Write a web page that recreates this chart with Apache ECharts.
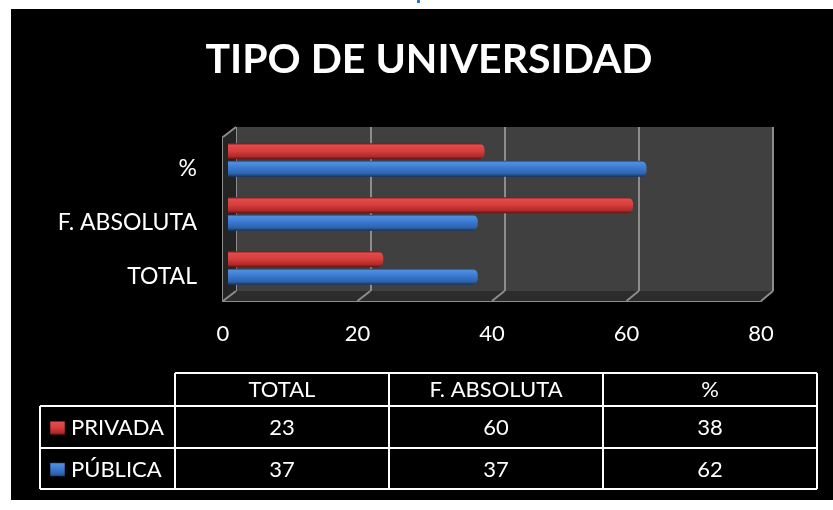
<!DOCTYPE html>
<html>
<head>
<meta charset="utf-8">
<script src="https://cdn.jsdelivr.net/npm/echarts@6/dist/echarts.min.js"></script>
<style>
html, body { margin: 0; padding: 0; background: #ffffff; }
#chart { width: 833px; height: 510px; }
</style>
</head>
<body>
<div id="chart"></div>
<script>
const categories = ['TOTAL', 'F. ABSOLUTA', '%'];
const privada = [23, 60, 38];
const publica = [37, 37, 62];
const seriesNames = ['PRIVADA', 'PÚBLICA'];
const xMin = 0;
const xMax = 80;
const xStep = 20;

const FONT = 'Lato';
const W = 833, H = 510;

// caja 3D: pared del fondo, plano de barras y borde frontal
const back = { left: 236, right: 60, top: 127, bottom: 219 };
const mid = { left: 228, right: 65, top: 133, bottom: 215 };
const front = { left: 223, right: 72, top: 137, bottom: 209 };

const redGrad = new echarts.graphic.LinearGradient(0, 0, 0, 1, [
  { offset: 0, color: '#7a1a1a' },
  { offset: 0.12, color: '#e24b4b' },
  { offset: 0.45, color: '#d83f3f' },
  { offset: 0.82, color: '#b02a2a' },
  { offset: 1, color: '#5a1010' }
]);
const blueGrad = new echarts.graphic.LinearGradient(0, 0, 0, 1, [
  { offset: 0, color: '#1d4378' },
  { offset: 0.12, color: '#4f8ee0' },
  { offset: 0.45, color: '#3c7ad0' },
  { offset: 0.82, color: '#2c62ae' },
  { offset: 1, color: '#163560' }
]);

const hiddenValueAxis = (gi) => ({
  type: 'value', gridIndex: gi, min: xMin, max: xMax, interval: xStep,
  axisLabel: { show: false }, axisLine: { show: false },
  axisTick: { show: false }, splitLine: { show: false }
});

const option = {
  animation: false,
  backgroundColor: '#ffffff',
  grid: [
    Object.assign({ show: true, backgroundColor: '#404040', borderWidth: 0 }, back),
    Object.assign({}, mid),
    Object.assign({}, front)
  ],
  xAxis: [
    Object.assign(hiddenValueAxis(0), {
      splitLine: { show: true, lineStyle: { color: '#8c8c8c', width: 2 } }
    }),
    hiddenValueAxis(1),
    Object.assign(hiddenValueAxis(2), {
      axisLine: { show: true, lineStyle: { color: '#8c8c8c', width: 2 } },
      axisLabel: { show: true, color: '#ffffff', fontSize: 22, fontFamily: FONT, margin: 22 }
    })
  ],
  yAxis: [
    { type: 'category', gridIndex: 0, data: categories, show: false },
    {
      type: 'category', gridIndex: 1, data: categories,
      axisLine: { show: false }, axisTick: { show: false },
      axisLabel: {
        color: '#ffffff', fontSize: 23, fontFamily: FONT, margin: 31,
        verticalAlign: 'top', lineHeight: 17
      }
    },
    {
      type: 'value', gridIndex: 2, min: 0, max: 1,
      axisLine: { show: true, lineStyle: { color: '#8c8c8c', width: 2 } },
      axisLabel: { show: false }, axisTick: { show: false }, splitLine: { show: false }
    }
  ],
  series: [
    {
      name: seriesNames[0], type: 'bar', xAxisIndex: 1, yAxisIndex: 1,
      data: privada, barWidth: 16, barGap: '8%',
      itemStyle: { color: redGrad, borderRadius: [0, 6, 6, 0] }
    },
    {
      name: seriesNames[1], type: 'bar', xAxisIndex: 1, yAxisIndex: 1,
      data: publica, barWidth: 16, barGap: '8%',
      itemStyle: { color: blueGrad, borderRadius: [0, 6, 6, 0] }
    }
  ]
};

const chart = echarts.init(document.getElementById('chart'));
chart.setOption(option);

// decoración 3D, título y tabla de datos
const bx = (v) => chart.convertToPixel({ xAxisIndex: 0 }, v);
const fx = (v) => chart.convertToPixel({ xAxisIndex: 2 }, v);
const backTop = back.top, backBottom = H - back.bottom;
const frontTop = front.top, frontBottom = H - front.bottom;
const gray = '#8c8c8c';

const els = [];
els.push({ type: 'rect', z: -100, shape: { x: 11, y: 9, width: W - 11, height: 491 }, style: { fill: '#000000' } });
els.push({ type: 'rect', z: -100, shape: { x: 417, y: 0, width: 3, height: 3 }, style: { fill: '#1a7ad4' } });
els.push({
  type: 'text', x: 429, y: 60, z: 5,
  style: {
    text: 'TIPO DE UNIVERSIDAD', fill: '#ffffff', fontSize: 41, fontWeight: 'bold',
    fontFamily: FONT, align: 'center', verticalAlign: 'middle'
  }
});

// suelo y pared izquierda
els.push({
  type: 'polygon', z: 1,
  shape: { points: [[bx(xMin), backBottom], [bx(xMax), backBottom], [fx(xMax), frontBottom], [fx(xMin), frontBottom]] },
  style: { fill: '#2c2c2c' }
});
els.push({
  type: 'polygon', z: 1,
  shape: { points: [[fx(xMin), frontTop], [bx(xMin), backTop], [bx(xMin), backBottom], [fx(xMin), frontBottom]] },
  style: { fill: '#242424' }
});
els.push({
  type: 'line', z: 3,
  shape: { x1: fx(xMin), y1: frontTop, x2: bx(xMin), y2: backTop },
  style: { stroke: gray, lineWidth: 2 }
});
for (let v = xMin; v <= xMax; v += xStep) {
  els.push({
    type: 'line', z: 3,
    shape: { x1: bx(v), y1: backBottom, x2: fx(v), y2: frontBottom },
    style: { stroke: gray, lineWidth: 2 }
  });
}

// tabla
const colEdges = [40, 175, 389, 603, 817];
const rowEdges = [373, 406, 448, 489];
const lineStyle = { stroke: '#ffffff', lineWidth: 2 };
els.push({ type: 'line', shape: { x1: colEdges[1], y1: rowEdges[0], x2: colEdges[4], y2: rowEdges[0] }, style: lineStyle });
for (let r = 1; r < rowEdges.length; r++) {
  els.push({ type: 'line', shape: { x1: colEdges[0], y1: rowEdges[r], x2: colEdges[4], y2: rowEdges[r] }, style: lineStyle });
}
els.push({ type: 'line', shape: { x1: colEdges[0], y1: rowEdges[1], x2: colEdges[0], y2: rowEdges[3] }, style: lineStyle });
for (let c = 1; c < colEdges.length; c++) {
  els.push({ type: 'line', shape: { x1: colEdges[c], y1: rowEdges[0], x2: colEdges[c], y2: rowEdges[3] }, style: lineStyle });
}
const cellText = (x, y, text, align) => ({
  type: 'text', x: x, y: y,
  style: { text: String(text), fill: '#ffffff', fontSize: 22, fontFamily: FONT, align: align || 'center', verticalAlign: 'middle' }
});
categories.forEach((cat, i) => {
  const cx = (colEdges[i + 1] + colEdges[i + 2]) / 2;
  els.push(cellText(cx, (rowEdges[0] + rowEdges[1]) / 2, cat));
  els.push(cellText(cx, (rowEdges[1] + rowEdges[2]) / 2 + 1, privada[i]));
  els.push(cellText(cx, (rowEdges[2] + rowEdges[3]) / 2 + 1, publica[i]));
});
[[seriesNames[0], redGrad], [seriesNames[1], blueGrad]].forEach((row, r) => {
  const cy = (rowEdges[r + 1] + rowEdges[r + 2]) / 2 + 1;
  els.push({ type: 'rect', shape: { x: 50, y: cy - 7, width: 15, height: 14 }, style: { fill: row[1], stroke: '#000000', lineWidth: 0.5 } });
  els.push(cellText(71, cy, row[0], 'left'));
});

chart.setOption({ graphic: { elements: els } });

window.addEventListener('resize', () => {
  chart.resize();
});
</script>
</body>
</html>
